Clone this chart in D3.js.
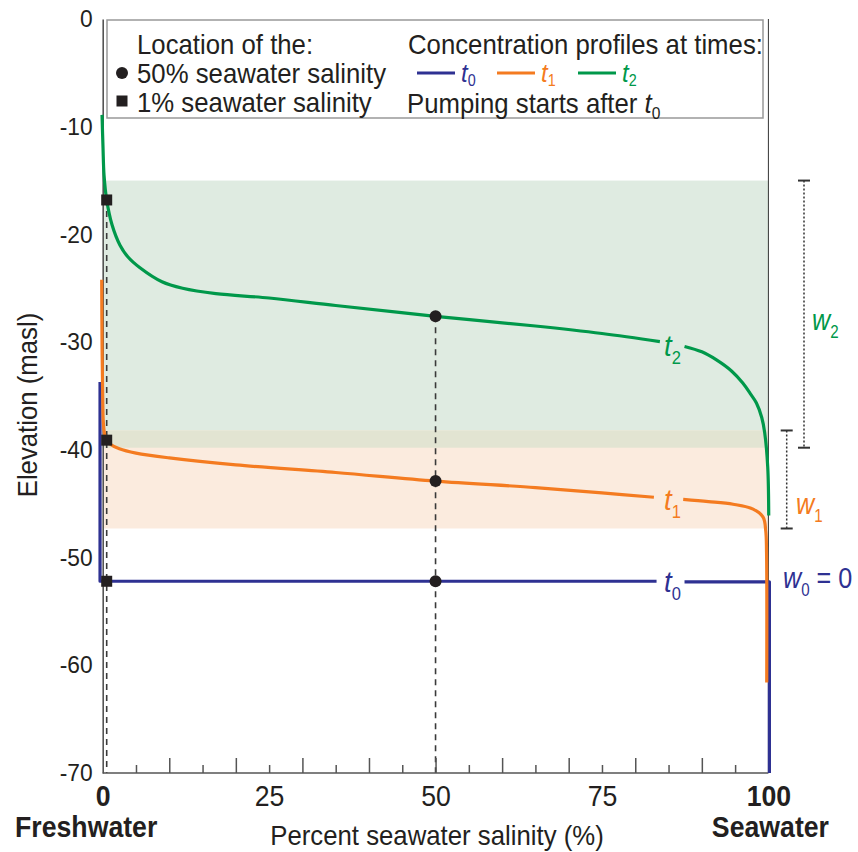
<!DOCTYPE html>
<html><head><meta charset="utf-8">
<script src="https://cdn.jsdelivr.net/npm/d3@7"></script>
<style>
body{margin:0;background:#fff}
svg{display:block}
text{font-family:"Liberation Sans",Arial,Helvetica,sans-serif}
</style>
</head><body>
<svg id="chart" width="858" height="852"></svg>
<script>
// ---------- data ----------
const salinityLabelTicks = [0, 25, 50, 75, 100];
const salinityMajorTicks = [10, 20, 30, 40, 50, 60, 70, 80, 90];
const salinityMinorTicks = [5, 15, 25, 35, 45, 55, 65, 75, 85, 95];
const elevationTicks = [0, -10, -20, -30, -40, -50, -60, -70];

// concentration profiles [salinity %, elevation masl]; null = gap for the curve label
const profileT0 = [[-0.4, -33.7], [-0.4, -52.2], [83.2, -52.2], null, [87.4, -52.25], [100.15, -52.25], [100.15, -70]];
const profileT1 = [[-0.15, -24.2], [-0.1, -30], [0.0, -35], [0.1, -37.5], [0.3, -38.6], [0.6, -39.1], [1.2, -39.5],
  [2.5, -39.9], [5, -40.3], [10, -40.75], [20, -41.4], [35, -42.1], [50, -42.9], [65, -43.5], [75, -44.0], [82.8, -44.4],
  null, [87.2, -44.6], [91, -44.8], [94.7, -45.05], [97.7, -45.5], [99.2, -46.25], [99.6, -47.5], [99.72, -49.5], [99.75, -61.6]];
const profileT2 = [[-0.1, -8.9], [0.05, -12], [0.2, -14.5], [0.6, -16.8], [1.4, -19.1], [2.6, -21.0], [3.8, -22.1],
  [5.6, -23.1], [8.9, -24.4], [12, -25.0], [17, -25.5], [25, -25.9], [35, -26.6], [50, -27.6], [65, -28.5], [75, -29.2],
  [83.7, -29.95], null, [87.4, -30.4], [90, -30.9], [92.2, -31.65], [94.5, -32.7], [96.15, -33.8], [97.3, -34.8],
  [98.2, -35.65], [99, -37], [99.44, -38.4], [99.9, -41.6], [100.05, -46.1]];

const profileNames = ["0", "1", "2"];
const profileColors = ["#2e3192", "#f47b20", "#00984a"];

const halfSalinity = 50;                       // 50% seawater salinity
const halfSalinityElev = [-52.2, -42.9, -27.6]; // t0, t1, t2
const onePercentSalinity = 0.6;                 // plotted position of 1% marker
const onePercentElev = [-52.2, -39.1, -16.8];

// mixing-zone widths
const widthBands = [
  { name: "2", top: -15.0, bottom: -39.8 },
  { name: "1", top: -38.2, bottom: -47.3 }
];
const bandFills = { "2": "#dfebe1", "1": "#fbebde", overlap: "#e2e4d2" };

// ---------- layout ----------
const svg = d3.select("#chart");
const x = d3.scaleLinear().domain([0, 100]).range([102.7, 768.4]);
const y = d3.scaleLinear().domain([0, -70]).range([19, 773]);
const FONT = 28, SX = 0.92;
const black = "#231f20";

// condensed text helper
function addText(g, px, py, size, sx, str) {
  const t = g.append("text").attr("transform", `translate(${px},${py}) scale(${sx},1)`)
    .attr("fill", black).style("font-size", size + "px");
  if (str !== undefined) t.text(str);
  return t;
}

// bands
const bandG = svg.append("g");
widthBands.forEach(b => {
  bandG.append("rect")
    .attr("x", x(0)).attr("width", x(100) - x(0))
    .attr("y", y(b.top)).attr("height", y(b.bottom) - y(b.top))
    .attr("fill", bandFills[b.name]);
});
{
  const top = Math.max(widthBands[0].bottom, widthBands[1].top);
  const bot = Math.min(widthBands[0].bottom, widthBands[1].top);
  bandG.append("rect")
    .attr("x", x(0)).attr("width", x(100) - x(0))
    .attr("y", y(top)).attr("height", y(bot) - y(top))
    .attr("fill", bandFills.overlap);
}

// right boundary line
svg.append("line").attr("x1", x(100)).attr("x2", x(100)).attr("y1", y(0)).attr("y2", y(-70))
  .attr("stroke", "#333").attr("stroke-width", 1);

// dashed drop lines
svg.append("line").attr("x1", x(onePercentSalinity)).attr("x2", x(onePercentSalinity))
  .attr("y1", y(d3.max(onePercentElev))).attr("y2", y(-70))
  .attr("stroke", "#3a3a3a").attr("stroke-width", 1.6).attr("stroke-dasharray", "6,5");
svg.append("line").attr("x1", x(halfSalinity)).attr("x2", x(halfSalinity))
  .attr("y1", y(d3.max(halfSalinityElev))).attr("y2", y(-70))
  .attr("stroke", "#3a3a3a").attr("stroke-width", 1.6).attr("stroke-dasharray", "6,5");

// axes
const xAxisG = svg.append("g").attr("transform", `translate(0,${y(-70)})`);
xAxisG.append("g").call(d3.axisBottom(x).tickValues(salinityMajorTicks).tickSize(-15).tickFormat(""))
  .call(g => g.select(".domain").remove());
xAxisG.append("g").call(d3.axisBottom(x).tickValues(salinityMinorTicks).tickSize(-8).tickFormat(""))
  .call(g => g.select(".domain").remove());
xAxisG.selectAll(".tick line").attr("stroke", "#555").attr("stroke-width", 1.5);
xAxisG.append("line").attr("x1", x(0)).attr("x2", x(100)).attr("stroke", "#555").attr("stroke-width", 1.6);

const xLab = svg.append("g").attr("transform", `translate(0,${y(-70)})`)
  .call(d3.axisBottom(x).tickValues(salinityLabelTicks).tickSize(0).tickPadding(12).tickFormat(d => String(d)));
xLab.select(".domain").remove();
xLab.selectAll("text").attr("fill", black).style("font-size", "29px").attr("dy", "0.71em")
  .attr("transform", `scale(${SX},1)`)
  .style("font-weight", d => (d === 0 || d === 100) ? "bold" : "normal");

const yAx = svg.append("g").attr("transform", `translate(${x(0)},0)`)
  .call(d3.axisLeft(y).tickValues(elevationTicks).tickSize(0).tickPadding(10 / 0.95).tickFormat(d => String(d)));
yAx.select(".domain").attr("stroke", "#555").attr("stroke-width", 1.6);
yAx.selectAll("text").attr("fill", black).style("font-size", "24px").attr("transform", "scale(0.95,1)");

// axis titles
addText(svg, 437, 845, FONT, SX, "Percent seawater salinity (%)").attr("text-anchor", "middle");
addText(svg, 15, 837, 29, SX, "Freshwater").style("font-weight", "bold");
addText(svg, 829, 837, 29, SX, "Seawater").attr("text-anchor", "end").style("font-weight", "bold");
svg.append("text").attr("transform", `translate(37,405) rotate(-90) scale(${SX},1)`).attr("text-anchor", "middle")
  .attr("fill", black).style("font-size", FONT + "px").text("Elevation (masl)");

// profiles
const smoothLine = d3.line().defined(d => d !== null).x(d => x(d[0])).y(d => y(d[1]))
  .curve(d3.curveCatmullRom.alpha(0.5));
const straightLine = d3.line().defined(d => d !== null).x(d => x(d[0])).y(d => y(d[1]));
[profileT0, profileT1, profileT2].forEach((p, i) => {
  svg.append("path").attr("d", (i === 0 ? straightLine : smoothLine)(p)).attr("fill", "none")
    .attr("stroke", profileColors[i]).attr("stroke-width", 3.2).attr("stroke-linejoin", "round");
});

// markers
halfSalinityElev.forEach(e => {
  svg.append("circle").attr("cx", x(halfSalinity)).attr("cy", y(e)).attr("r", 6).attr("fill", black);
});
onePercentElev.forEach(e => {
  svg.append("rect").attr("x", x(onePercentSalinity) - 5.5).attr("y", y(e) - 5.5)
    .attr("width", 11).attr("height", 11).attr("fill", black);
});

// subscript label helper
function subLabel(g, px, py, main, sub, color, size, sx, subDy, rest) {
  const t = addText(g, px, py, size, sx).attr("fill", color);
  t.append("tspan").style("font-style", "italic").text(main);
  t.append("tspan").attr("dy", size * subDy).style("font-size", (size * 0.6) + "px").text(sub);
  if (rest) t.append("tspan").attr("dy", -size * subDy).text(rest);
  return t;
}

// curve labels
subLabel(svg, 664, 356, "t", profileNames[2], profileColors[2], 30, SX, 0.28);
subLabel(svg, 664, 510, "t", profileNames[1], profileColors[1], 30, SX, 0.28);
subLabel(svg, 664, 592, "t", profileNames[0], profileColors[0], 30, SX, 0.28);

// width bars
function wBar(cx, b) {
  const g = svg.append("g").attr("stroke", "#333");
  g.append("line").attr("x1", cx).attr("x2", cx).attr("y1", y(b.top)).attr("y2", y(b.bottom))
    .attr("stroke-width", 1.5).attr("stroke-dasharray", "2,2");
  [b.top, b.bottom].forEach(v => g.append("line").attr("x1", cx - 6).attr("x2", cx + 6)
    .attr("y1", y(v)).attr("y2", y(v)).attr("stroke-width", 2));
}
wBar(804, widthBands[0]);
wBar(786.7, widthBands[1]);
subLabel(svg, 812, 330, "w", widthBands[0].name, profileColors[2], 30, 0.84, 0.28);
subLabel(svg, 796, 514, "w", widthBands[1].name, profileColors[1], 30, 0.84, 0.28);
subLabel(svg, 783, 588, "w", profileNames[0], profileColors[0], 30, 0.84, 0.28, " = 0");

// legend
const lg = svg.append("g");
lg.append("rect").attr("x", 107).attr("y", 20).attr("width", 656).attr("height", 98)
  .attr("fill", "#fff").attr("stroke", "#999").attr("stroke-width", 1.5);
addText(lg, 137, 54, FONT, SX, "Location of the:");
lg.append("circle").attr("cx", 122).attr("cy", 73).attr("r", 6).attr("fill", black);
addText(lg, 137, 83, FONT, SX, "50% seawater salinity");
lg.append("rect").attr("x", 116.5).attr("y", 95.5).attr("width", 11).attr("height", 11).attr("fill", black);
addText(lg, 137, 112, FONT, SX, "1% seawater salinity");
addText(lg, 408, 54, FONT, SX, "Concentration profiles at times:");
const sampleX = [417, 497, 578];
profileNames.forEach((n, i) => {
  lg.append("line").attr("x1", sampleX[i]).attr("x2", sampleX[i] + 38).attr("y1", 73).attr("y2", 73)
    .attr("stroke", profileColors[i]).attr("stroke-width", 3.2);
  subLabel(lg, sampleX[i] + 44, 82, "t", n, profileColors[i], 26, SX, 0.14);
});
const pt = addText(lg, 407, 113, FONT, SX);
pt.append("tspan").text("Pumping starts after ");
pt.append("tspan").style("font-style", "italic").text("t");
pt.append("tspan").attr("dy", 6).style("font-size", "17px").text(profileNames[0]);
</script>
</body></html>
